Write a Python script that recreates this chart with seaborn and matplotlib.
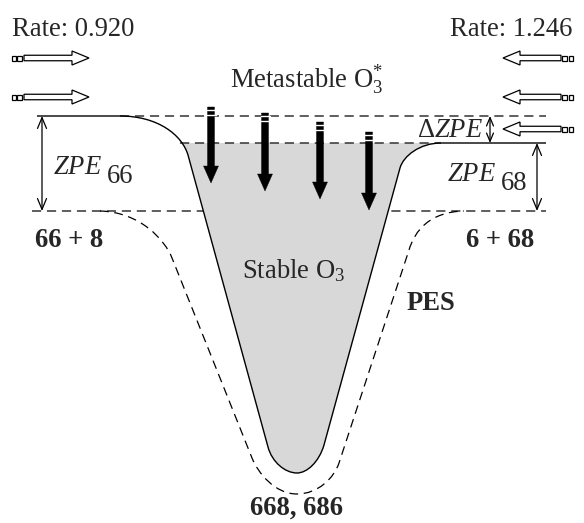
import matplotlib
matplotlib.use("Agg")
import matplotlib.pyplot as plt
import seaborn as sns
import pandas as pd
from matplotlib.path import Path
from matplotlib.patches import PathPatch, FancyArrow, Rectangle

sns.set_theme(style="white")
plt.rcParams["font.family"] = ["Liberation Serif", "DejaVu Serif"]
plt.rcParams["mathtext.fontset"] = "custom"
plt.rcParams["mathtext.rm"] = "Liberation Serif"
plt.rcParams["mathtext.it"] = "Liberation Serif:italic"
plt.rcParams["mathtext.bf"] = "Liberation Serif:bold"

# ---------------- data (schematic, in picture units) ----------------
level_names = ["ZPE 66 entrance", "ZPE 68 entrance", "asymptote"]
level_y = [116, 143, 211]
level_x0 = [120, 180, 32]
level_x1 = [546, 441, 546]

rate_labels = ["Rate: 0.920", "Rate: 1.246"]
left_flux_y = [58, 97]
right_flux_y = [58, 97, 129]

drop_x = [211, 265, 320, 369]
drop_top = [107, 113, 122, 132]
drop_tip = [183, 191, 199, 210]

# well outline (Bezier control points)
well_pts = [(37, 116), (120, 116),
            (158, 116), (182, 135), (188, 155),
            (268, 447),
            (272, 462), (285, 473), (297, 473),
            (307, 473), (319, 462), (324, 445),
            (400, 168),
            (403.3, 156), (420, 143), (441, 143),
            (546, 143)]
well_codes = [Path.MOVETO, Path.LINETO,
              Path.CURVE4, Path.CURVE4, Path.CURVE4,
              Path.LINETO,
              Path.CURVE4, Path.CURVE4, Path.CURVE4,
              Path.CURVE4, Path.CURVE4, Path.CURVE4,
              Path.LINETO,
              Path.CURVE4, Path.CURVE4, Path.CURVE4,
              Path.LINETO]

pes_pts = [(100, 211),
           (140, 212), (165, 240), (172, 258),
           (252, 458),
           (258, 473), (275, 494), (297, 494),
           (318, 494), (334, 478), (339, 463),
           (409, 250),
           (415, 230), (430, 212), (464, 211)]
pes_codes = [Path.MOVETO,
             Path.CURVE4, Path.CURVE4, Path.CURVE4,
             Path.LINETO,
             Path.CURVE4, Path.CURVE4, Path.CURVE4,
             Path.CURVE4, Path.CURVE4, Path.CURVE4,
             Path.LINETO,
             Path.CURVE4, Path.CURVE4, Path.CURVE4]

# ---------------- figure ----------------
fig = plt.figure(figsize=(5.84, 5.23), dpi=100)
ax = fig.add_axes([0, 0, 1, 1])
ax.set_xlim(0, 584)
ax.set_ylim(523, 0)
ax.axis("off")

dash = (0, (6, 3.8))
# energy levels (dashed)
for name, y, x0, x1 in zip(level_names, level_y, level_x0, level_x1):
    df = pd.DataFrame({"x": [x0, x1], "y": [y, y]})
    z = 3 if name == "ZPE 68 entrance" else 1
    sns.lineplot(data=df, x="x", y="y", ax=ax, color="#333333", lw=1.1,
                 linestyle=dash, zorder=z, legend=False)

# gray fill of the well (stable O3)
fill_path = Path(well_pts[1:-1] + [well_pts[1]],
                 [Path.MOVETO] + well_codes[2:-1] + [Path.CLOSEPOLY])
fill = PathPatch(fill_path, facecolor="#d8d8d8", edgecolor="none", zorder=2)
ax.add_patch(fill)
fill.set_clip_path(Rectangle((0, level_y[1]), 584, 400, transform=ax.transData))

# well outline
ax.add_patch(PathPatch(Path(well_pts, well_codes), facecolor="none",
                       edgecolor="black", lw=1.0, zorder=4))
# PES
ax.add_patch(PathPatch(Path(pes_pts, pes_codes), facecolor="none",
                       edgecolor="black", lw=0.9, linestyle=(0, (7, 4.5)), zorder=4))

# vertical double arrows
def dbl(x, y0, y1, ms=13):
    ax.annotate("", xy=(x, y0), xytext=(x, y1),
                arrowprops=dict(arrowstyle="<->,head_length=0.6,head_width=0.25",
                                lw=0.9, color="black", shrinkA=0, shrinkB=0,
                                mutation_scale=ms), zorder=5)

dbl(42, level_y[0], level_y[2])
dbl(537, level_y[1], level_y[2])
dbl(490, level_y[0], level_y[1], ms=10)

# hollow flux arrows
def flux(y, direction):
    if direction > 0:
        tail, tip = 24, 89
        sq = [(12, 4), (17, 5)]
    else:
        tail, tip = 561, 503
        sq = [(562, 5), (569, 4)]
    ax.add_patch(FancyArrow(tail, y, tip - tail, 0, width=5.5, head_width=14,
                            head_length=17, length_includes_head=True,
                            facecolor="white", edgecolor="black", lw=0.9, zorder=5))
    for sx, sw in sq:
        ax.add_patch(Rectangle((sx, y - 2.5), sw, 5, facecolor="white",
                               edgecolor="black", lw=0.9, zorder=5))

for y in left_flux_y:
    flux(y, 1)
for y in right_flux_y:
    flux(y, -1)

# black stabilisation arrows
for x, t, b in zip(drop_x, drop_top, drop_tip):
    ax.add_patch(FancyArrow(x, t, 0, b - t, width=7, head_width=15,
                            head_length=17, length_includes_head=True,
                            facecolor="black", edgecolor="black", lw=0.3, zorder=6))
    for g in (3.3, 7.6):
        ax.plot([x - 4.5, x + 4.5], [t + g, t + g], color="white", lw=1.0, zorder=7)

# ---------------- text ----------------
fs = 19.2
ax.text(12, 36, rate_labels[0], fontsize=fs, va="baseline", ha="left")
ax.text(572, 36, rate_labels[1], fontsize=fs, va="baseline", ha="right")
ax.text(307, 88, r"Metastable O$_3^{*}$", fontsize=fs, va="baseline", ha="center")
ax.text(294, 278, r"Stable O$_3$", fontsize=fs, va="baseline", ha="center", zorder=8)

ax.text(53, 174, r"$ZPE$", fontsize=fs, va="baseline", ha="left")
ax.text(107, 183, "66", fontsize=fs, va="baseline", ha="left")
ax.text(447, 181, r"$ZPE$", fontsize=fs, va="baseline", ha="left")
ax.text(501, 190, "68", fontsize=fs, va="baseline", ha="left")
ax.text(417, 137, r"$\Delta ZPE$", fontsize=fs, va="baseline", ha="left")

ax.text(35, 247, "66 + 8", fontsize=fs, fontweight="bold", va="baseline", ha="left")
ax.text(466, 247, "6 + 68", fontsize=fs, fontweight="bold", va="baseline", ha="left")
ax.text(407, 310, "PES", fontsize=fs, fontweight="bold", va="baseline", ha="left")
ax.text(297, 515, "668, 686", fontsize=fs, fontweight="bold", va="baseline", ha="center")

fig.savefig("out.png", dpi=100)
